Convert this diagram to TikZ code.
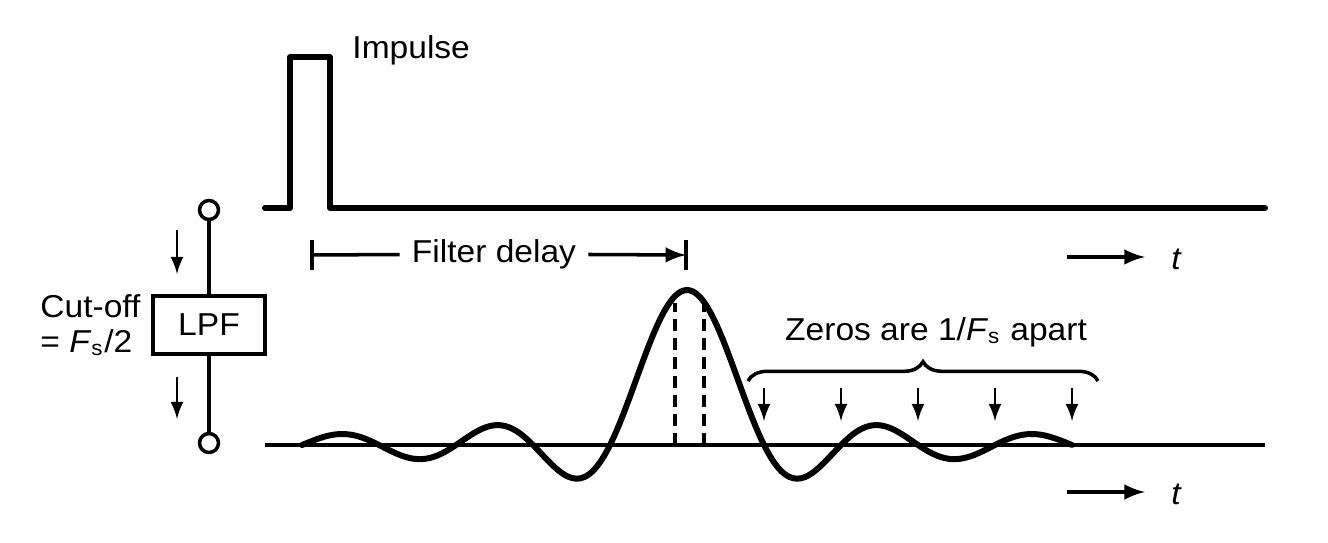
\documentclass[tikz,border=0pt]{standalone}
\usepackage{fontspec}
\setmainfont{Liberation Sans}[FakeStretch=1.06]
\usetikzlibrary{arrows,decorations.pathreplacing}

\begin{document}
\begin{tikzpicture}[x=0.01cm,y=-0.01cm,
    lbl/.style={font=\fontsize{9}{10}\selectfont},
    sig/.style={line width=1.7pt,line join=round,line cap=round},
    wire/.style={line width=1pt},
    tic/.style={-latex,line width=0.7pt},
    port/.style={circle,draw,wire,fill=white,inner sep=0pt,minimum size=5.4pt}]
  \useasboundingbox (0,0) rectangle (1328,543);
  % input impulse
  \draw[sig] (265,208) -- (290,208) -- (290,57) -- (330,57) -- (330,208) -- (1265,208);
  \node[lbl,anchor=west] (imp) at (340,50) {Impulse};
  % filter block
  \node[port] (in) at (209,210) {};
  \node[port] (out) at (209,443) {};
  \node[lbl,draw,wire,minimum width=1.12cm,minimum height=0.58cm] (lpf) at (209,325) {LPF};
  \draw[wire] (in) -- (lpf);
  \draw[wire] (lpf) -- (out);
  \draw[tic] (177,230) -- (177,274);
  \draw[tic] (177,377) -- (177,419);
  \node[lbl,anchor=west,align=left] (cut) at (28,325) {Cut-off\\= \textit{F}\textsubscript{s}/2};
  % filter delay
  \node[lbl] (dly) at (494,254) {Filter delay};
  \coordinate (d0) at (312,255);
  \coordinate (d1) at (686,255);
  \draw[wire] (d0) -- (dly);
  \draw[wire,-latex] (dly) -- (d1);
  \draw[wire] (d0) ++(0,-15) -- ++(0,30);
  \draw[wire] (d1) ++(0,-15) -- ++(0,30);
  % time arrows
  \node[lbl,font=\fontsize{9}{10}\selectfont\itshape] (t1) at (1176,259) {t};
  \node[lbl,font=\fontsize{9}{10}\selectfont\itshape] (t2) at (1176,494) {t};
  \coordinate (a1) at (1067,257);
  \coordinate (a2) at (1067,492);
  \draw[wire,-latex,shorten >=4pt] (a1) -- (a1 -| t1.west);
  \draw[wire,-latex,shorten >=4pt] (a2) -- (a2 -| t2.west);
  % output response
  \draw[wire] (265,445) -- (1265,445);
  \draw[sig] plot[domain=-5:5,samples=200,smooth] ({687+77*\x},{445-155*sin(180*\x)/(pi*\x)});
  \draw[wire,dash pattern=on 3.4pt off 2pt] (675,445) -- (675,303);
  \draw[wire,dash pattern=on 3.4pt off 2pt] (704,445) -- (704,303);
  \draw[wire,decorate,decoration={brace,amplitude=5.5pt}] (748,381) -- (1098,381);
  \node[lbl] (zer) at (936,332) {Zeros are 1/\textit{F}\textsubscript{s} apart};
  \foreach \k in {1,...,5}
    \draw[tic] ({687+77*\k},388) -- ++(0,33);
\end{tikzpicture}
\end{document}
